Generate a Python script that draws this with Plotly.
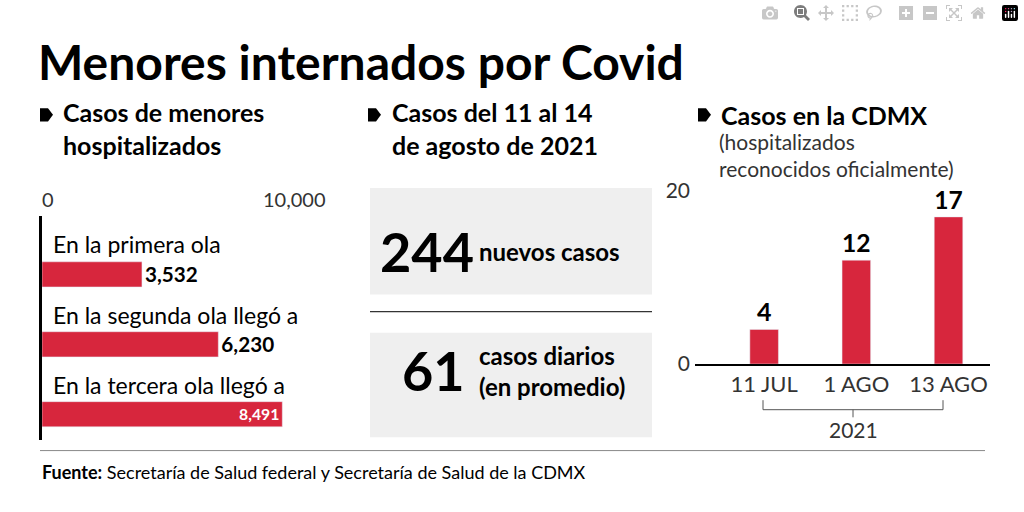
import plotly.graph_objects as go

W, H = 1024, 512

olas = ["En la primera ola", "En la segunda ola llegó a", "En la tercera ola llegó a"]
olas_casos = [3532, 6230, 8491]

fechas = ["11 JUL", "1 AGO", "13 AGO"]
cdmx_casos = [4, 12, 17]

nuevos = 244
diarios = 61

RED = "#d7263d"
FONT = "Lato"


def px(x, y):
    return x / W, 1 - y / H


def dom_x(a, b):
    return [a / W, b / W]


def dom_y(top, bottom):
    return [1 - bottom / H, 1 - top / H]


fig = go.Figure()

# left: bars of cases per wave
fig.add_trace(go.Bar(
    y=olas, x=olas_casos, orientation="h", marker_color=RED, width=0.36,
    texttemplate="<b>%{x:,}</b>",
    textposition=["outside", "outside", "inside"],
    insidetextanchor="end",
    textfont=dict(family=FONT, size=23, color=["black", "black", "white"]),
    cliponaxis=False, xaxis="x", yaxis="y", hoverinfo="skip",
))

# right: CDMX cases
fig.add_trace(go.Bar(
    x=fechas, y=cdmx_casos, marker_color=RED, width=0.31,
    texttemplate="<b>%{y}</b>", textposition="outside",
    textfont=dict(family=FONT, size=25, color="black"),
    cliponaxis=False, xaxis="x2", yaxis="y2", hoverinfo="skip",
))

fig.update_layout(
    width=W, height=H, margin=dict(l=0, r=0, t=0, b=0),
    paper_bgcolor="white", plot_bgcolor="rgba(0,0,0,0)",
    showlegend=False, font=dict(family=FONT, color="black"),
    xaxis=dict(domain=dom_x(42, 325), range=[0, 10000], showticklabels=False,
               showgrid=False, zeroline=False, ticks=""),
    yaxis=dict(domain=dom_y(212, 448), range=[2.37, -0.84], showticklabels=False,
               showline=True, linecolor="black", linewidth=3, showgrid=False,
               zeroline=False),
    xaxis2=dict(domain=dom_x(695, 990), anchor="y2", showline=True,
                linecolor="black", linewidth=2, ticks="",
                tickfont=dict(size=22, color="#333"), range=[-0.75, 2.45]),
    yaxis2=dict(domain=dom_y(186, 368), range=[0, 20], anchor="x2",
                tickvals=[0, 20], showgrid=False, zeroline=False,
                tickfont=dict(size=21, color="#333"), ticklabelstandoff=4),
)

shapes = []
ann = []


def text(x, y, s, size, bold=False, color="black", xanchor="left", yanchor="middle"):
    xx, yy = px(x, y)
    ann.append(dict(x=xx, y=yy, xref="paper", yref="paper", text=f"<b>{s}</b>" if bold else s,
                    showarrow=False, xanchor=xanchor, yanchor=yanchor, align="left",
                    font=dict(family=FONT, size=size, color=color)))


def bullet(x, y):
    pts = [(x, y - 7), (x + 8, y - 7), (x + 13, y), (x + 8, y + 7), (x, y + 7)]
    path = "M " + " L ".join(f"{px(a, b)[0]},{px(a, b)[1]}" for a, b in pts) + " Z"
    shapes.append(dict(type="path", xref="paper", yref="paper", path=path,
                       fillcolor="black", line=dict(width=0)))


def line(x0, y0, x1, y1, color="black", width=1):
    a, b = px(x0, y0)
    c, d = px(x1, y1)
    shapes.append(dict(type="line", xref="paper", yref="paper", x0=a, y0=b, x1=c, y1=d,
                       line=dict(color=color, width=width)))


def rect(x0, y0, x1, y1, color):
    a, b = px(x0, y0)
    c, d = px(x1, y1)
    shapes.append(dict(type="rect", xref="paper", yref="paper", x0=a, y0=b, x1=c, y1=d,
                       fillcolor=color, line=dict(width=0), layer="below"))


text(36, 50, "Menores internados por Covid", 48, bold=True)

# headers
bullet(40, 106)
text(61, 120, "Casos de menores<br>hospitalizados", 25, bold=True)
bullet(368, 106)
text(390, 120, "Casos del 11 al 14<br>de agosto de 2021", 25, bold=True)
bullet(698, 106)
text(719, 106, "Casos en la CDMX", 25, bold=True)
text(717, 148, "(hospitalizados<br>reconocidos oficialmente)", 21, color="#333")

# axis labels of the left chart
text(48, 195, "0", 20, color="#333", xanchor="center")
text(328, 195, "10,000", 20, color="#333", xanchor="right")

# wave labels
for lab, yy in zip(olas, [242, 316, 390]):
    text(51, yy, lab, 23)

# middle panel
rect(370, 183, 652, 295, "#efefef")
rect(370, 335, 652, 445, "#efefef")
line(370, 313, 652, 313, width=1)
text(378, 250, f"{nuevos}", 54, bold=True)
text(477, 250, "nuevos casos", 24, bold=True)
text(400, 375, f"{diarios}", 54, bold=True)
text(477, 375, "casos diarios<br>(en promedio)", 24, bold=True)

# year bracket
line(763, 406, 763, 416, color="#555")
line(943, 406, 943, 416, color="#555")
line(763, 416, 943, 416, color="#555")
line(853, 416, 853, 424, color="#555")
text(853, 437, "2021", 21, color="#333", xanchor="center")

# footer
line(40, 459, 985, 459, color="#888")
text(40, 481, "<b>Fuente:</b> Secretaría de Salud federal y Secretaría de Salud de la CDMX", 18)

fig.update_layout(shapes=shapes, annotations=ann)
fig.write_html("out.html",
               post_script="document.body.style.margin='0';document.body.style.overflow='hidden';")
